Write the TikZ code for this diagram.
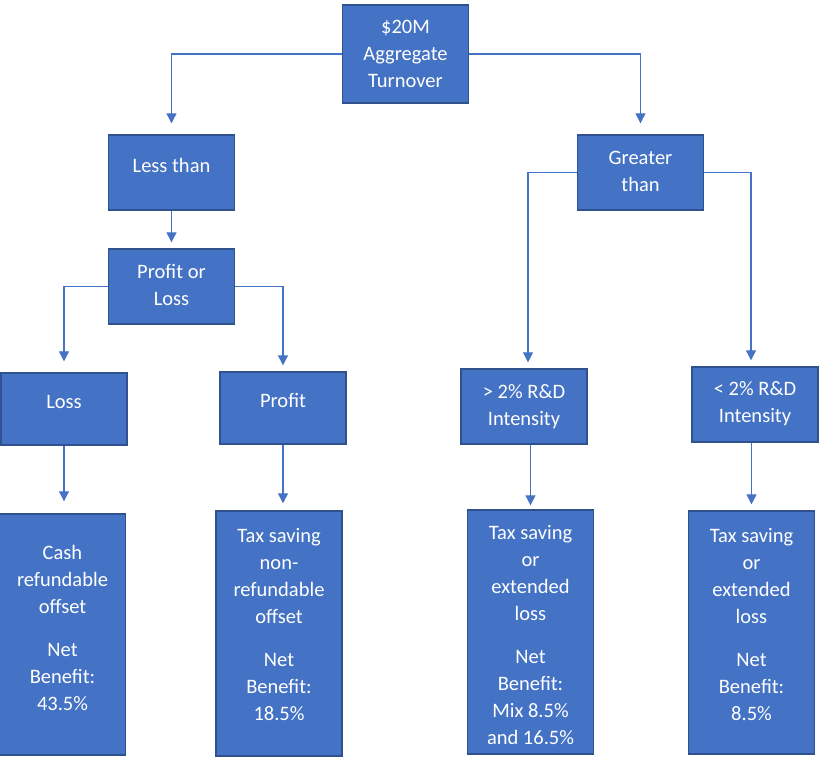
\documentclass[tikz,border=0pt]{standalone}
\usepackage{fontspec}
\setmainfont{Carlito}
\usetikzlibrary{arrows.meta}
\definecolor{officeblue}{HTML}{4472C4}
\definecolor{edgeblue}{HTML}{2F528F}
\tikzset{
    box/.style 2 args ={
        shape=rectangle,
        draw=edgeblue,
        fill=officeblue,
        line width=1.4pt,
        text=white,
        align=center,
        anchor=base,
        inner sep=0pt,
        minimum width=126pt,
        text height=#1pt,
        text depth=#2pt,
        font=\fontsize{20.5}{27}\selectfont
    },
    arr/.style ={
        draw=officeblue,
        line width=1.2pt,
        -{Triangle[width=10pt,length=10pt]}
    }
}
\begin{document}
\begin{tikzpicture}[x=1pt,y=-1pt]
    \useasboundingbox (0,0) rectangle (819,758);
    \node[box={82}{16}] (turnover) at(405.5,87) {\$20M\\Aggregate\\Turnover};
    \node[box={37}{38}] (less) at(171.5,172) {Less than};
    \node[box={56}{19}] (pol) at(171.5,305) {Profit or\\Loss};
    \node[box={56}{19}] (greater) at(640.5,191) {Greater\\than};
    \node[box={35}{37}] (loss) at(64,408) {Loss};
    \node[box={35}{37}] (profit) at(283,407) {Profit};
    \node[box={56}{19}] (above) at(524,425) {> 2\% R\&D\\Intensity};
    \node[box={55}{20}] (below) at(755,422) {< 2\% R\&D\\Intensity};
    \node[box={196}{45}] (cash) at(62.5,710) {Cash\\refundable\\offset\\[16pt]Net\\Benefit:\\43.5\%};
    \node[box={209}{36}] (nonref) at(279,720) {Tax saving\\non-\\refundable\\offset\\[16pt]Net\\Benefit:\\18.5\%};
    \node[box={234}{10}] (mixed) at(530.5,744) {Tax saving\\or\\extended\\loss\\[16pt]Net\\Benefit:\\Mix 8.5\%\\and 16.5\%};
    \node[box={209}{34}] (small) at(751.5,720) {Tax saving\\or\\extended\\loss\\[16pt]Net\\Benefit:\\8.5\%};
    \draw[arr,shorten >=11pt] (turnover.west) -| (less);
    \draw[arr,shorten >=11pt] (turnover.east) -| (greater);
    \draw[arr,shorten >=6pt] (less) -- (pol);
    \draw[arr,shorten >=11pt] (pol.west) -| (loss);
    \draw[arr,shorten >=6pt] (pol.east) -| (profit);
    \draw[arr,shorten >=6pt] (greater.west) -| ([xshift=4pt]above.north);
    \draw[arr,shorten >=6pt] (greater.east) -| ([xshift=-4pt]below.north);
    \draw[arr,shorten >=12pt] (loss.south) -- (loss.south |- cash.north);
    \draw[arr,shorten >=7pt] (profit.south) -- (profit.south |- nonref.north);
    \draw[arr,shorten >=4pt] (mixed.north |- above.south) -- (mixed.north);
    \draw[arr,shorten >=6pt] (small.north |- below.south) -- (small.north);
\end{tikzpicture}
\end{document}
